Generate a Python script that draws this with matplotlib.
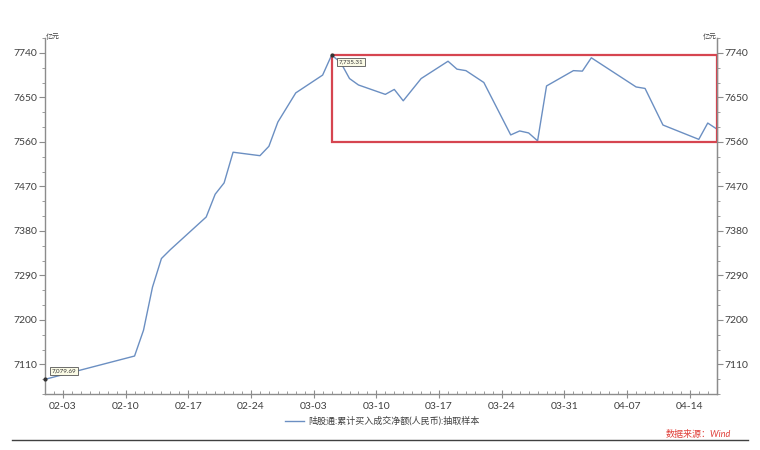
import matplotlib
matplotlib.use("Agg")
import matplotlib.pyplot as plt
import matplotlib.dates as mdates
from matplotlib.lines import Line2D
from matplotlib.patches import Rectangle
import pandas as pd

plt.rcParams['font.family'] = ['Lato', 'Noto Sans CJK SC', 'DejaVu Sans']

dates = ["2025-02-01", "2025-02-11", "2025-02-12", "2025-02-13", "2025-02-14", "2025-02-15",
         "2025-02-19", "2025-02-20", "2025-02-21", "2025-02-22", "2025-02-25", "2025-02-26",
         "2025-02-27", "2025-03-01", "2025-03-04", "2025-03-05", "2025-03-06", "2025-03-07",
         "2025-03-08", "2025-03-11", "2025-03-12", "2025-03-13", "2025-03-15", "2025-03-18",
         "2025-03-19", "2025-03-20", "2025-03-22", "2025-03-25", "2025-03-26", "2025-03-27",
         "2025-03-28", "2025-03-29", "2025-04-01", "2025-04-02", "2025-04-03", "2025-04-08",
         "2025-04-09", "2025-04-11", "2025-04-15", "2025-04-16", "2025-04-17"]
values = [7079.69, 7126.8, 7179, 7266, 7324, 7342,
          7408, 7454, 7477, 7539, 7532, 7551,
          7600, 7659, 7695, 7735.31, 7721, 7688,
          7675, 7656, 7666, 7643, 7688, 7723,
          7707, 7704, 7680, 7574, 7582, 7578,
          7562, 7673, 7704, 7703, 7730, 7671,
          7668, 7594, 7565, 7598, 7586]
series_name = "陆股通:累计买入成交净额(人民币):抽取样本"
unit = "亿元"
source = "数据来源：Wind"
y_ticks = [7110, 7200, 7290, 7380, 7470, 7560, 7650, 7740]
box_low, box_high = 7560, 7736

x = pd.to_datetime(dates)
x_min, x_max = pd.Timestamp("2025-02-01"), pd.Timestamp("2025-04-17")

fig = plt.figure(figsize=(7.6, 4.5), dpi=100)
ax = fig.add_axes([45/760, 1-394/450, (716.7-45)/760, (394-38)/450])

line_color = '#6b8fc2'
ax.plot(x, values, color=line_color, lw=1.0, label=series_name)
ax.set_xlim(x_min, x_max)
ax.set_ylim(7050, 7770)

spine_c = '#8c8c8c'
ax.spines['top'].set_visible(False)
for s in ['left', 'bottom', 'right']:
    ax.spines[s].set_color(spine_c)
    ax.spines[s].set_linewidth(1.0)

ax.set_yticks(y_ticks)
ax.yaxis.set_minor_locator(plt.MultipleLocator(30))
ax.xaxis.set_major_locator(mdates.WeekdayLocator(byweekday=mdates.MO))
ax.xaxis.set_major_formatter(mdates.DateFormatter('%m-%d'))
ax.xaxis.set_minor_locator(mdates.DayLocator())
ax.tick_params(axis='y', which='major', direction='out', length=4, width=0.8, color=spine_c,
               labelsize=7.5, labelcolor='#404040', pad=1.5)
ax.tick_params(axis='y', which='minor', direction='out', length=2, width=0.6, color=spine_c)
ax.tick_params(axis='x', which='major', direction='inout', length=6, width=0.8, color=spine_c,
               labelsize=7.5, labelcolor='#404040', pad=3)
ax.tick_params(axis='x', which='minor', direction='in', length=2.5, width=0.6, color=spine_c)

ax2 = ax.twinx()
ax2.set_ylim(ax.get_ylim())
ax2.set_yticks(y_ticks)
ax2.yaxis.set_minor_locator(plt.MultipleLocator(30))
for s in ['top', 'left', 'bottom']:
    ax2.spines[s].set_visible(False)
ax2.spines['right'].set_color(spine_c)
ax2.tick_params(axis='y', which='major', direction='out', length=4, width=0.8, color=spine_c,
                labelsize=7.5, labelcolor='#404040', pad=1.5)
ax2.tick_params(axis='y', which='minor', direction='out', length=2, width=0.6, color=spine_c)

# red highlight box
peak_i = values.index(max(values))
px = mdates.date2num(x[peak_i])
rect = Rectangle((px, box_low), mdates.date2num(x_max) - px, box_high - box_low,
                 fill=False, edgecolor='#d64550', lw=1.6, zorder=5, clip_on=False)
ax.add_patch(rect)

# annotations
bbox = dict(boxstyle='square,pad=0.25', fc='#fbfbe6', ec='#555555', lw=0.6)
ax.plot([x[peak_i]], [values[peak_i]], marker='o', ms=2, color='#333333', zorder=6)
ax.annotate(f"{values[peak_i]:,.2f}", (x[peak_i], values[peak_i]), xytext=(5, -5),
            textcoords='offset points', fontsize=4.5, color='#333333', va='center', ha='left',
            bbox=bbox, zorder=7)
ax.plot([x[0]], [values[0]], marker='o', ms=2, color='#333333', zorder=6, clip_on=False)
ax.annotate(f"{values[0]:,.2f}", (x[0], values[0]), xytext=(5, 6),
            textcoords='offset points', fontsize=4.5, color='#333333', va='center', ha='left',
            bbox=bbox, zorder=7)

# unit labels
fig.text(46/760, 1-37/450, unit, fontsize=5, color='#404040', ha='left', va='center')
fig.text(717/760, 1-37/450, unit, fontsize=5, color='#404040', ha='right', va='center')

# legend
fig.legend(handles=[Line2D([0], [0], color=line_color, lw=1.0)], labels=[series_name],
           loc='center', bbox_to_anchor=(382/760, 1-421/450), frameon=False,
           fontsize=6.5, handlelength=2.2, handletextpad=0.4, labelcolor='#404040')

fig.text(731/760, 1-435/450, source, fontsize=6.5, color='#e0403a', style='italic',
         ha='right', va='center')
fig.add_artist(Line2D([12/760, 748/760], [1-440/450, 1-440/450], color='#404040', lw=1.0,
                      transform=fig.transFigure))

fig.savefig('out.png', dpi=100)
